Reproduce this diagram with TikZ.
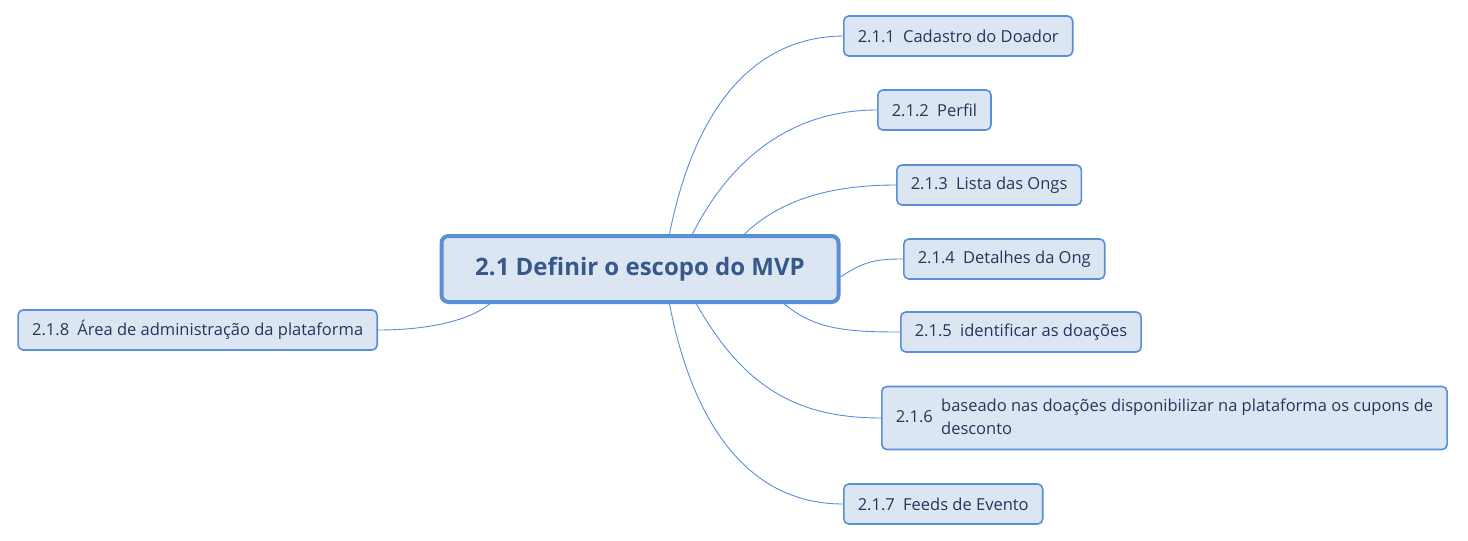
\documentclass[tikz,border=0pt]{standalone}
\usepackage{fontspec}
\setmainfont{Open Sans}
\usetikzlibrary{positioning,calc}
\definecolor{boxfill}{HTML}{DCE6F2}
\definecolor{boxline}{HTML}{5A8ED6}
\definecolor{roottext}{HTML}{36598A}
\definecolor{leaftext}{HTML}{24365A}
\tikzstyle{root} = [draw=boxline, line width=4pt, fill=boxfill, rounded corners=7pt, minimum width=397pt, minimum height=66pt, text=roottext, font=\fontsize{24}{28}\selectfont\bfseries]
\tikzstyle{leaf} = [draw=boxline, line width=1.6pt, fill=boxfill, rounded corners=5pt, minimum height=40pt, inner xsep=14pt, anchor=west, text=leaftext, font=\fontsize{16.5}{23}\selectfont]
\tikzstyle{branch} = [draw=boxline, line width=0.9pt]
\newcommand{\num}[1]{#1\hspace{0.5em}}

\begin{document}
\begin{tikzpicture}[x=1pt,y=-1pt]
	\useasboundingbox (0,0) rectangle (1468,541);
	\node[root] (mvp) at (640,269) {2.1 Definir o escopo do MVP};
	\node[leaf] (cad) at (843,36) {\num{2.1.1}Cadastro do Doador};
	\node[leaf] (per) at (877,110) {\num{2.1.2}Perfil};
	\node[leaf] (lis) at (896,185) {\num{2.1.3}Lista das Ongs};
	\node[leaf] (det) at (903,259) {\num{2.1.4}Detalhes da Ong};
	\node[leaf] (ide) at (900,332) {\num{2.1.5}identificar as doações};
	\node[leaf, minimum height=63pt] (bas) at (881,418) {\num{2.1.6}\begin{tabular}{@{}l@{}}baseado nas doações disponibilizar na plataforma os cupons de\\desconto\end{tabular}};
	\node[leaf] (fee) at (843,504) {\num{2.1.7}Feeds de Evento};
	\node[leaf, anchor=east] (adm) at (378,330) {\num{2.1.8}Área de administração da plataforma};
	% branches
	\draw[branch] ([xshift=230pt]mvp.north west) .. controls (690,130) and (740,37) .. (cad.west);
	\draw[branch] ([xshift=253pt]mvp.north west) .. controls (730,160) and (790,110) .. (per.west);
	\draw[branch] ([xshift=305pt]mvp.north west) .. controls (775,205) and (820,185) .. (lis.west);
	\draw[branch] ([yshift=-8pt]mvp.east) .. controls (865,260) and (880,259) .. (det.west);
	\draw[branch] ([xshift=345pt]mvp.south west) .. controls (815,330) and (850,332) .. (ide.west);
	\draw[branch] ([xshift=257pt]mvp.south west) .. controls (745,390) and (800,418) .. (bas.west);
	\draw[branch] ([xshift=230pt]mvp.south west) .. controls (690,410) and (740,504) .. (fee.west);
	\draw[branch] ([xshift=50pt]mvp.south west) .. controls (470,320) and (430,330) .. (adm.east);
\end{tikzpicture}
\end{document}
